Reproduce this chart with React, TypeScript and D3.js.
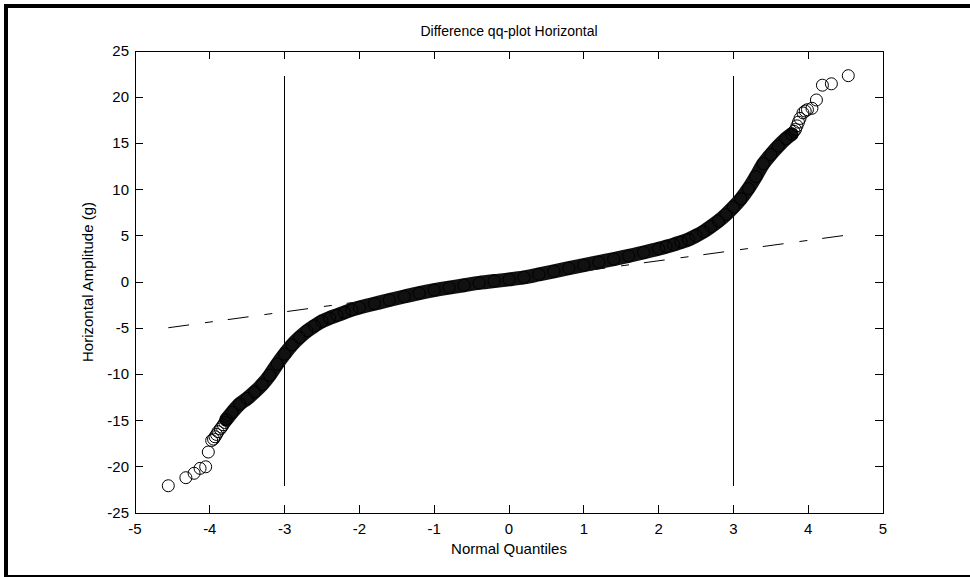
import * as d3 from "d3";

// dense part of the sample (overplotted band), normal quantile vs amplitude
const bandQuantiles = [
  -3.78, -3.7, -3.6, -3.5, -3.4, -3.3, -3.2, -3.1, -3.0, -2.9, -2.8, -2.7, -2.6,
  -2.5, -2.4, -2.3, -2.2, -2.1, -2.0, -1.8, -1.6, -1.4, -1.2, -1.0, -0.8, -0.6,
  -0.4, -0.2, 0.0, 0.2, 0.4, 0.6, 0.8, 1.0, 1.2, 1.4, 1.6, 1.8, 2.0, 2.1, 2.2,
  2.3, 2.4, 2.5, 2.6, 2.7, 2.8, 2.9, 3.0, 3.1, 3.2, 3.3, 3.4, 3.5, 3.6, 3.7, 3.78,
];
const bandAmplitudes = [
  -14.9, -14.1, -13.2, -12.6, -11.9, -11.1, -10.1, -8.9, -7.8, -6.8, -6.0, -5.3,
  -4.75, -4.25, -3.9, -3.6, -3.3, -3.0, -2.75, -2.35, -1.95, -1.57, -1.2, -0.88,
  -0.6, -0.35, -0.1, 0.1, 0.28, 0.5, 0.82, 1.15, 1.5, 1.82, 2.15, 2.48, 2.82,
  3.2, 3.6, 3.82, 4.05, 4.32, 4.6, 5.0, 5.45, 6.0, 6.6, 7.3, 8.1, 9.0, 10.1,
  11.4, 12.8, 13.8, 14.7, 15.5, 16.0,
];

// individually visible observations in the tails
const tailQuantiles = [
  -4.555, -4.32, -4.21, -4.13, -4.055, -4.02, -3.975, -3.95, -3.93, -3.91,
  -3.89, -3.86, -3.84, -3.82, -3.8, 3.81, 3.83, 3.85, 3.87, 3.89, 3.93, 3.96,
  3.99, 4.05, 4.11, 4.19, 4.31, 4.536,
];
const tailAmplitudes = [
  -22.05, -21.18, -20.7, -20.17, -20.0, -18.4, -17.15, -17.0, -16.75, -16.5,
  -16.2, -15.9, -15.7, -15.45, -15.2, 16.3, 16.5, 16.9, 17.3, 17.7, 18.3, 18.5,
  18.65, 18.8, 19.7, 21.3, 21.45, 22.33,
];

// fitted reference line (dash-dot) end points
const refQuantiles = [-4.555, 4.536];
const refAmplitudes = [-4.95, 5.1];

// cut-off markers
const cutoffs = [-3, 3];

const xTicks = [-5, -4, -3, -2, -1, 0, 1, 2, 3, 4, 5];
const yTicks = [-25, -20, -15, -10, -5, 0, 5, 10, 15, 20, 25];

const FONT = "'Liberation Sans', Arial, Helvetica, sans-serif";

export default function App() {
  const W = 970;
  const H = 577;
  const x = d3.scaleLinear().domain([-5, 5]).range([135, 883]);
  const y = d3.scaleLinear().domain([-25, 25]).range([513, 51]);

  const band = bandQuantiles.map((q, i) => [q, bandAmplitudes[i]]);
  const tails = tailQuantiles.map((q, i) => [q, tailAmplitudes[i]]);
  const ref = refQuantiles.map((q, i) => [q, refAmplitudes[i]]);
  const allVals = bandAmplitudes.concat(tailAmplitudes);
  const [vMin, vMax] = d3.extent(allVals);

  const line = d3
    .line()
    .x((d) => x(d[0]))
    .y((d) => y(d[1]))
    .curve(d3.curveCatmullRom);
  const straight = d3
    .line()
    .x((d) => x(d[0]))
    .y((d) => y(d[1]));

  const [x0, x1] = x.range();
  const [y0, y1] = [y.range()[1], y.range()[0]];
  const tick = 8;

  return (
    <svg
      width={W}
      height={H}
      style={{ position: "absolute", left: 0, top: 0, background: "#fff" }}
      fontFamily={FONT}
    >
      <rect x={0} y={0} width={W} height={H} fill="#fff" />
      {/* outer figure frame (right side is cut off) */}
      <g stroke="#000" shapeRendering="crispEdges">
        <line x1={4} x2={W} y1={6} y2={6} strokeWidth={4} />
        <line x1={6} x2={6} y1={4} y2={H} strokeWidth={4} />
        <line x1={4} x2={W} y1={576} y2={576} strokeWidth={2} />
      </g>

      {/* axes box */}
      <g stroke="#000" strokeWidth={1} shapeRendering="crispEdges" fill="none">
        <rect x={x0} y={y0} width={x1 - x0} height={y1 - y0} />
        {xTicks.map((t) => (
          <g key={"xt" + t}>
            <line x1={x(t)} x2={x(t)} y1={y1} y2={y1 - tick} />
            <line x1={x(t)} x2={x(t)} y1={y0} y2={y0 + tick} />
          </g>
        ))}
        {yTicks.map((t) => (
          <g key={"yt" + t}>
            <line x1={x0} x2={x0 + tick} y1={y(t)} y2={y(t)} />
            <line x1={x1} x2={x1 - tick} y1={y(t)} y2={y(t)} />
          </g>
        ))}
      </g>

      <g fontSize={15} fill="#000">
        {xTicks.map((t) => (
          <text key={"xl" + t} x={x(t)} y={y1 + 21} textAnchor="middle">
            {t}
          </text>
        ))}
        {yTicks.map((t) => (
          <text key={"yl" + t} x={x0 - 6} y={y(t) + 5} textAnchor="end">
            {t}
          </text>
        ))}
      </g>

      {/* cut-off lines */}
      {cutoffs.map((c) => (
        <line
          key={"c" + c}
          x1={x(c)}
          x2={x(c)}
          y1={y(vMin)}
          y2={y(vMax)}
          stroke="#000"
          strokeWidth={1}
          shapeRendering="crispEdges"
        />
      ))}

      {/* reference line */}
      <path
        d={straight(ref)}
        fill="none"
        stroke="#000"
        strokeWidth={1}
        strokeDasharray="21,16,8,15"
      />

      {/* overplotted sample band */}
      <path
        d={line(band)}
        fill="none"
        stroke="#111"
        strokeWidth={14}
        strokeLinecap="round"
        strokeLinejoin="round"
      />
      {band.concat(tails).map((d, i) => (
        <circle
          key={"p" + i}
          cx={x(d[0])}
          cy={y(d[1])}
          r={6}
          fill="none"
          stroke="#000"
          strokeWidth={1}
        />
      ))}

      <text x={(x0 + x1) / 2} y={36} textAnchor="middle" fontSize={14}>
        Difference qq-plot Horizontal
      </text>
      <text x={(x0 + x1) / 2} y={554} textAnchor="middle" fontSize={15}>
        Normal Quantiles
      </text>
      <text
        transform={`translate(93,${(y0 + y1) / 2}) rotate(-90)`}
        textAnchor="middle"
        fontSize={15}
      >
        Horizontal Amplitude (g)
      </text>
    </svg>
  );
}
